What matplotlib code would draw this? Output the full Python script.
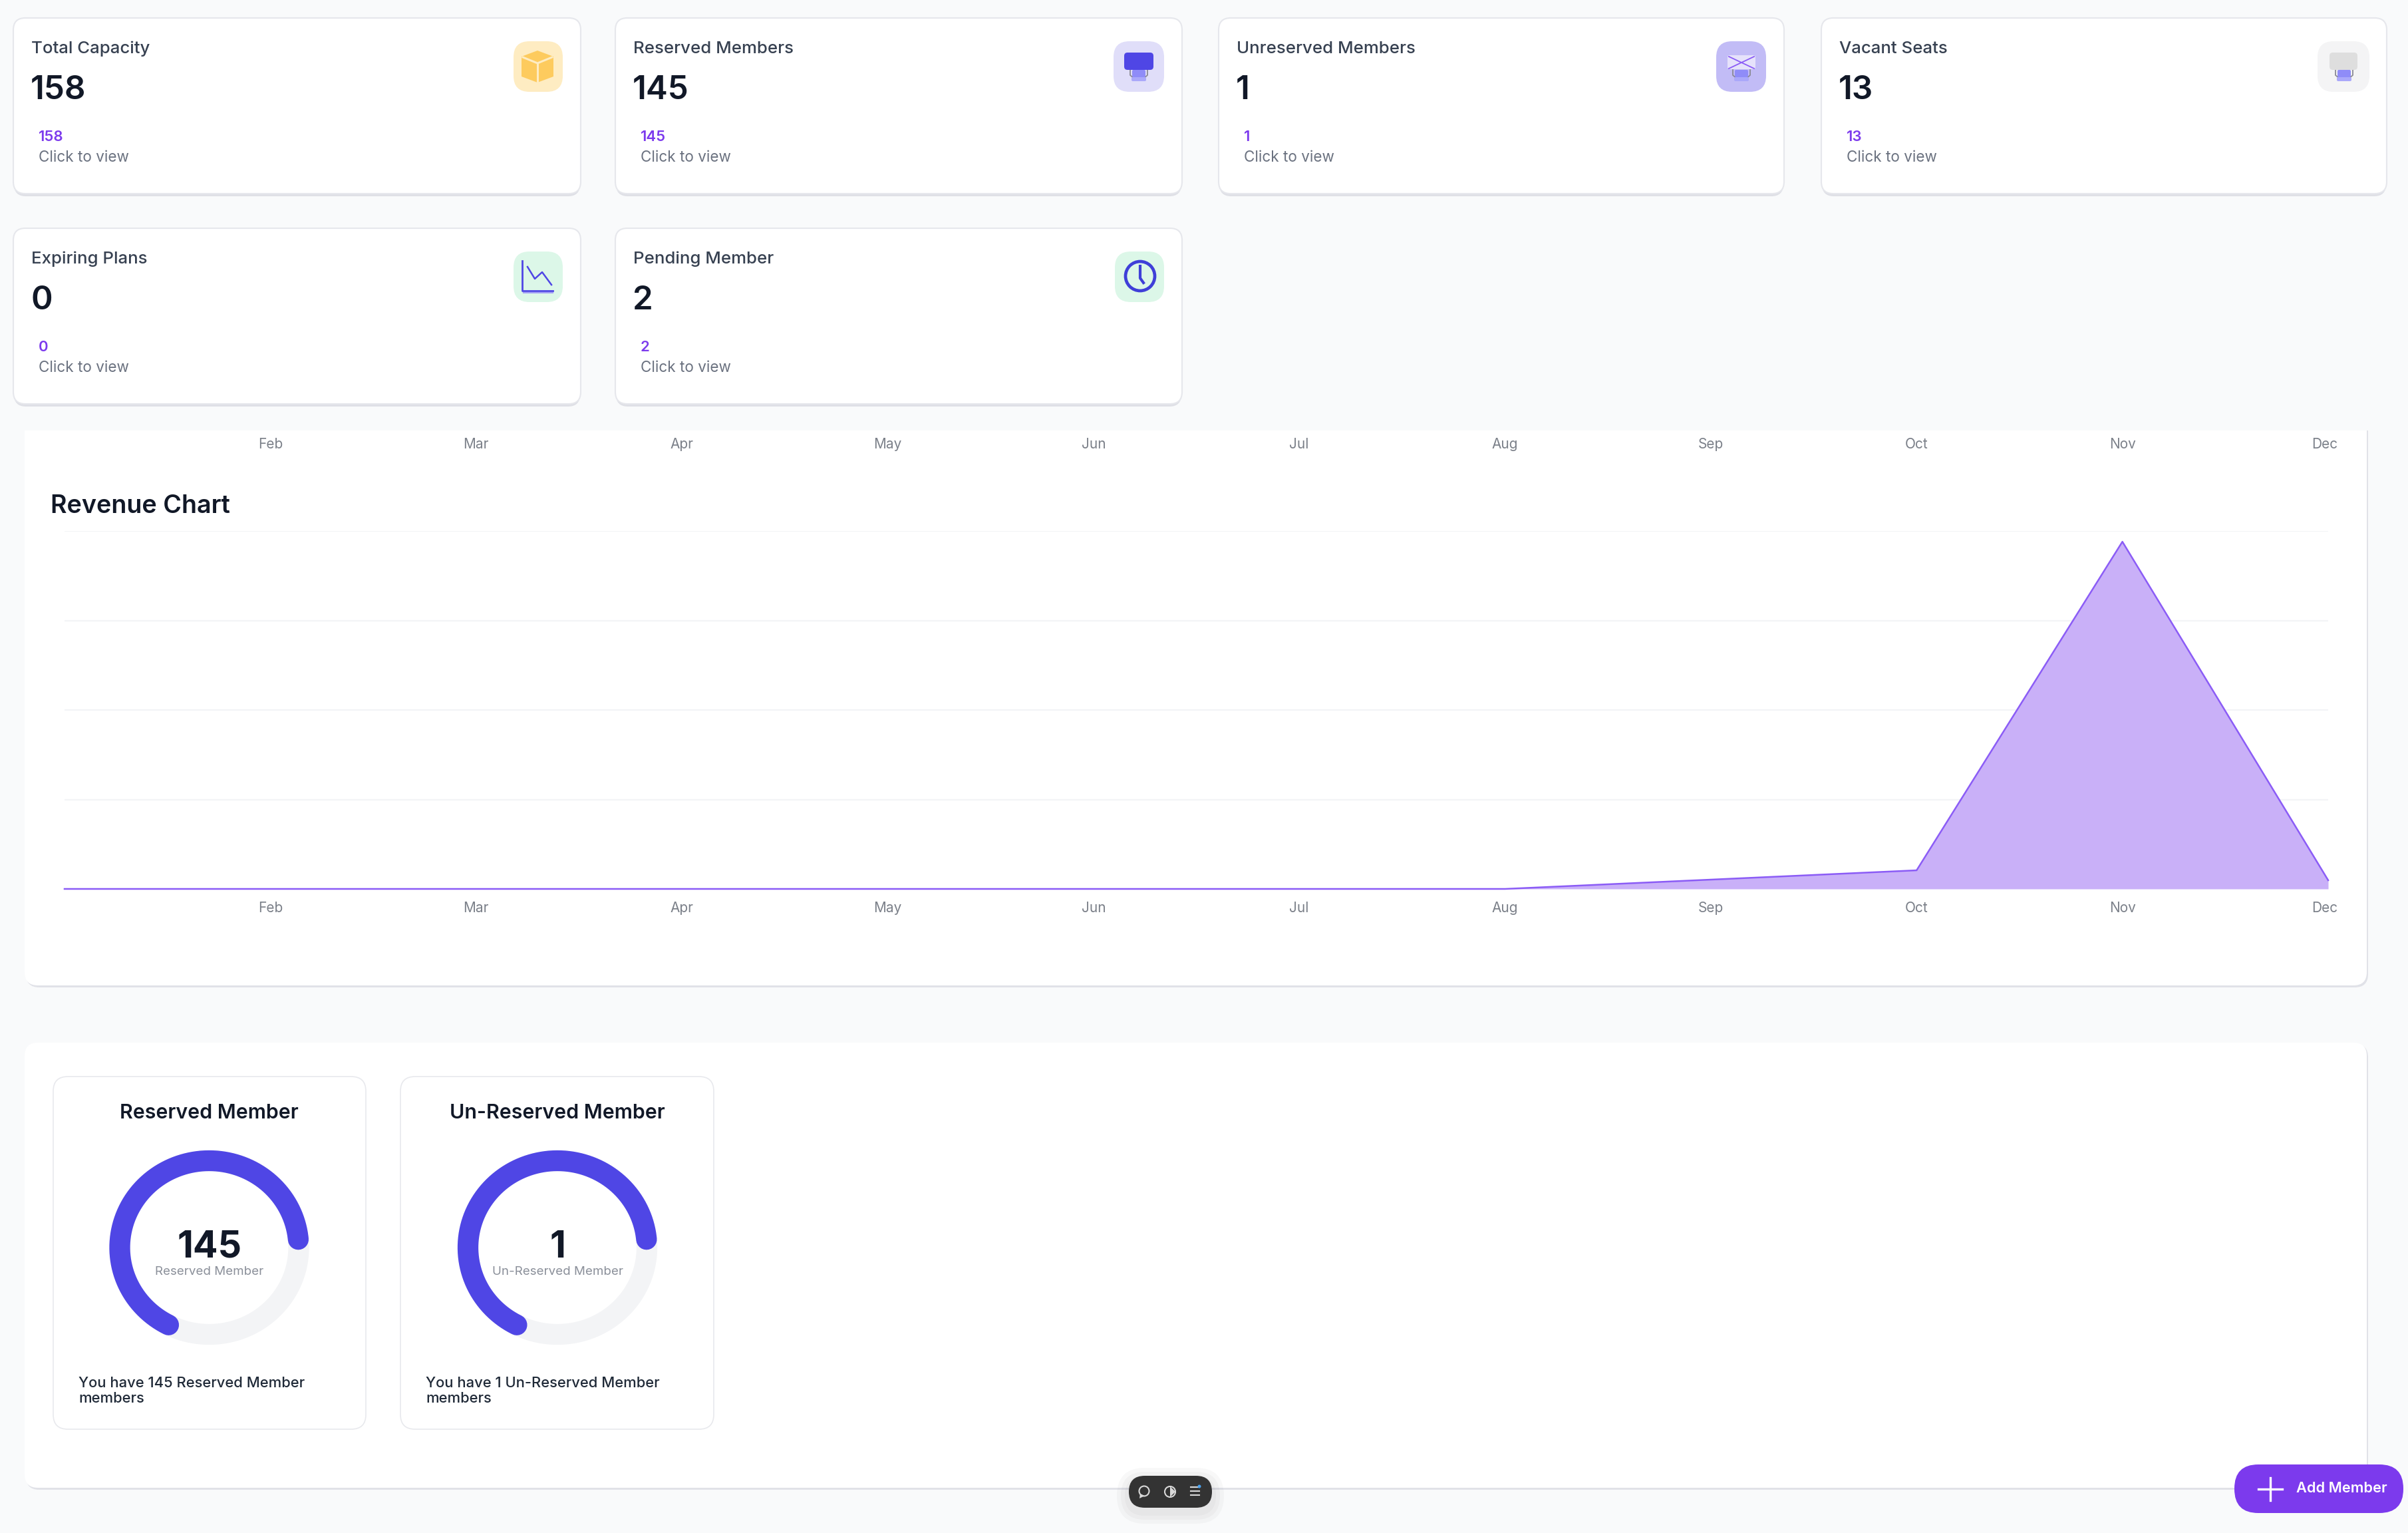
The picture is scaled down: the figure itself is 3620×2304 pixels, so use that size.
import numpy as np
import matplotlib
matplotlib.use("Agg")
import matplotlib.pyplot as plt
from matplotlib.patches import FancyBboxPatch, Polygon, Circle
from matplotlib.transforms import ScaledTranslation

plt.rcParams['font.family'] = ['Inter', 'DejaVu Sans']

# stat cards
card_titles = ["Total Capacity", "Reserved Members", "Unreserved Members", "Vacant Seats", "Expiring Plans", "Pending Member"]
card_values = [158, 145, 1, 13, 0, 2]
card_left = [20, 925, 1832, 2738, 20, 925]
card_right = [873, 1777, 2682, 3588, 873, 1777]
card_top = [27, 27, 27, 27, 343, 343]
card_bottom = [291, 291, 291, 291, 607, 607]
icon_bg = ["#feecc2", "#e0def9", "#c2bcf6", "#f4f4f5", "#dcf7e8", "#dcf7e8"]
icon_left = [772, 1674, 2580, 3484, 772, 1676]
icon_right = [846, 1750, 2655, 3562, 846, 1750]

# revenue chart
months = ["Jan", "Feb", "Mar", "Apr", "May", "Jun", "Jul", "Aug", "Sep", "Oct", "Nov", "Dec"]
revenue = [0, 0, 0, 0, 0, 0, 0, 0, 1040, 2080, 38800, 970]
grid_values = [0, 10000, 20000, 30000, 40000]

# gauges
gauge_titles = ["Reserved Member", "Un-Reserved Member"]
gauge_values = [145, 1]
gauge_percent = [66, 66]
gauge_start = 207
gauge_x = [314.5, 838]
gauge_card_left = [80, 602]
gauge_card_right = [550, 1073]

W, H = 3620, 2304
BG = "#f9fafb"
PURPLE = "#7c3aed"
INDIGO = "#4f46e5"

fig = plt.figure(figsize=(W / 100, H / 100), dpi=100, facecolor=BG)
ax = fig.add_axes([0, 0, 1, 1])
ax.set_xlim(0, W)
ax.set_ylim(H, 0)
ax.axis("off")


def box(x0, y0, x1, y1, r, fc, ec="none", lw=0, z=1, alpha=None):
    p = FancyBboxPatch((x0, y0), x1 - x0, y1 - y0, boxstyle="round,pad=0,rounding_size=%s" % r,
                       fc=fc, ec=ec, lw=lw, zorder=z, alpha=alpha)
    ax.add_patch(p)
    return p


def stand(cx, color):
    # little base under the seat icons
    ax.plot([cx - 13, cx - 13, cx - 7], [105, 113, 118], color="#8a8a94", lw=1.3, zorder=4)
    ax.plot([cx + 13, cx + 13, cx + 7], [105, 113, 118], color="#8a8a94", lw=1.3, zorder=4)
    box(cx - 10, 105, cx + 10, 116, 2, color, z=5)
    box(cx - 11, 116, cx + 11, 122, 2, "#aaa8fa", z=5)


def draw_icon(i):
    box(icon_left[i], card_top[i] + 35, icon_right[i], card_top[i] + 111, 24, icon_bg[i], z=3)
    if i == 0:
        hexagon = [(808, 76), (832, 85), (832, 115), (808, 124), (784, 115), (784, 85)]
        ax.add_patch(Polygon(hexagon, fc="#fdcb5e", ec="none", zorder=4))
        ax.plot([786, 808, 830], [86, 95, 86], color="#feecc2", lw=2.2, zorder=5)
        ax.plot([808, 808], [95, 123], color="#feecc2", lw=2.2, zorder=5)
    elif i == 1:
        box(1690, 79, 1734, 105, 5, INDIGO, z=6)
        stand(1712, "#8f8cf8")
    elif i == 2:
        stand(2618, "#8f8cf8")
        box(2597, 83, 2639, 104, 3, "#e6e2fb", z=6)
        ax.plot([2599, 2637], [85, 103], color="#8b5cf6", lw=1.3, zorder=7)
        ax.plot([2599, 2637], [103, 85], color="#8b5cf6", lw=1.3, zorder=7)
    elif i == 3:
        stand(3524, "#8f8cf8")
        box(3502, 79, 3544, 105, 5, "#dedede", z=6)
    elif i == 4:
        ax.plot([785, 785, 831], [392, 437, 437], color=INDIGO, lw=2, zorder=4)
        ax.plot([787, 831], [440, 440], color="#a5a2f5", lw=1.5, zorder=4)
        ax.plot([793, 804, 815, 829], [401, 419, 409, 428], color=INDIGO, lw=1.8, zorder=4)
    else:
        ax.add_patch(Circle((1714, 415), 22, fc="none", ec="#3f3fd8", lw=3.4, zorder=4))
        ax.plot([1714, 1714, 1719], [400, 418, 425], color="#3f3fd8", lw=3, zorder=4)


# chart panel, cut off at the top by the cards above it
box(39, 625, 3560, 1484, 20, "#e1e2e8", z=1)
box(37, 625, 3558, 1481, 20, "white", z=1)
ax.fill_between([30, 3570], 615, 647, color=BG, lw=0, zorder=1)

# top cards
for i in range(len(card_titles)):
    l, r, t, b = card_left[i], card_right[i], card_top[i], card_bottom[i]
    box(l + 1, t + 2, r - 1, b + 4, 18, "#dfe0e6", z=1.5)
    box(l, t, r, b, 18, "white", ec="#e6e7ec", lw=1.5, z=2)
    ax.text(l + 27, t + 46, card_titles[i], fontsize=18.6, fontweight="medium", color="#374151", va="center", zorder=3)
    ax.text(l + 26, t + 109, str(card_values[i]), fontsize=35.5, fontweight="semibold", color="#111827", va="center", zorder=3)
    ax.text(l + 38, t + 179, str(card_values[i]), fontsize=16, fontweight="semibold", color=PURPLE, va="center", zorder=3)
    ax.text(l + 38, t + 210, "Click to view", fontsize=16.2, color="#6b7280", va="center", zorder=3)
    draw_icon(i)

ax.text(76, 761, "Revenue Chart", fontsize=27.2, fontweight="semibold", color="#111827", va="center", zorder=3)

y_top, y_bottom, x_left, x_right = 798, 1336, 97, 3500
cax = fig.add_axes([x_left / W, 1 - y_bottom / H, (x_right - x_left) / W, (y_bottom - y_top) / H])
cax.patch.set_alpha(0)
for s in cax.spines.values():
    s.set_visible(False)
xs = np.arange(len(months))
cax.set_xlim(0, len(months) - 1)
cax.set_ylim(0, 40000)
cax.set_yticks(grid_values)
cax.set_yticklabels([])
cax.grid(axis="y", color="#f3f4f6", lw=1.6, zorder=0)
cax.set_axisbelow(True)
cax.fill_between(xs, 0, revenue, color="#c9b0f8", lw=0, zorder=2)
cax.plot(xs, revenue, color="#8b5cf6", lw=1.8, zorder=3, clip_on=False)
cax.set_xticks(xs[1:])
cax.set_xticklabels(months[1:], fontsize=15, color="#7b8089")
cax.tick_params(axis="x", length=0, pad=14)
cax.tick_params(axis="y", length=0, pad=0)
# Dec sits a little left of its tick so it stays inside the panel
last = cax.get_xticklabels()[-1]
last.set_transform(last.get_transform() + ScaledTranslation(-5 / 100, 0, fig.dpi_scale_trans))
# the axis labels of the chart above, which is scrolled away
for k in xs[1:]:
    dx = 5 / 309.4 if k == xs[-1] else 0
    cax.text(k - dx, 1 + (y_top - 667.5) / (y_bottom - y_top), months[k], transform=cax.get_xaxis_transform(),
             fontsize=15, color="#7b8089", ha="center", va="center")

# gauge panel
box(39, 1569, 3560, 2239, 20, "#e1e2e8", z=1)
box(37, 1567, 3558, 2236, 20, "white", z=2)
for i in range(len(gauge_titles)):
    cx, cy = gauge_x[i], 1875
    box(gauge_card_left[i], 1618, gauge_card_right[i], 2148, 22, "white", ec="#e8e9ed", lw=1.2, z=3)
    ax.text(cx, 1673, gauge_titles[i], fontsize=21.8, fontweight="semibold", color="#111827", ha="center", va="center", zorder=4)
    t = np.radians(np.linspace(0, 360, 361))
    ax.plot(cx + 134.5 * np.sin(t), cy - 130.5 * np.cos(t), color="#f3f4f6", lw=22.5, zorder=4)
    t = np.radians(gauge_start + np.linspace(0, gauge_percent[i] * 3.6, 200))
    ax.plot(cx + 134.5 * np.sin(t), cy - 130.5 * np.cos(t), color=INDIGO, lw=22.5, zorder=5, solid_capstyle="round")
    ax.text(cx, 1875, str(gauge_values[i]), fontsize=40, fontweight="bold", color="#111827", ha="center", va="center", zorder=6)
    ax.text(cx, 1912, gauge_titles[i], fontsize=13.5, color="#8a8f99", ha="center", va="center", zorder=6)
    ax.text(gauge_card_left[i] + 38, 2079, "You have %d %s" % (gauge_values[i], gauge_titles[i]), fontsize=15.8,
            fontweight="medium", color="#1f2937", va="center", zorder=4)
    ax.text(gauge_card_left[i] + 38, 2102, "members", fontsize=15.8, fontweight="medium", color="#1f2937", va="center", zorder=4)

# floating toolbar
for g in [18, 12, 6]:
    box(1697 - g, 2224 - g, 1822 + g, 2272 + g, 24 + g, "#333333", z=6, alpha=0.03)
box(1697, 2218, 1822, 2266, 24, "#333333", z=7)
ax.add_patch(Circle((1720, 2241), 7.5, fc="none", ec="#d9d9d9", lw=1.5, zorder=8))
ax.add_patch(Polygon([(1714, 2245), (1721, 2248), (1713, 2252)], fc="#d9d9d9", ec="none", zorder=8))
ax.add_patch(Circle((1759, 2242), 8, fc="#333333", ec="#d9d9d9", lw=1.5, zorder=8))
ax.add_patch(Polygon([(1759, 2234), (1767, 2242), (1759, 2250)], fc="#d9d9d9", ec="none", zorder=8))
for yy in [2235, 2241, 2247]:
    ax.plot([1790, 1803], [yy, yy], color="#d9d9d9", lw=1.5, zorder=8)
ax.add_patch(Circle((1803, 2234), 2.5, fc="#4aa3f0", ec="none", zorder=9))

# add button
box(3359, 2201, 3613, 2274, 36, PURPLE, z=7)
ax.plot([3395, 3431], [2238, 2238], color="white", lw=2.4, zorder=8)
ax.plot([3413, 3413], [2221, 2255], color="white", lw=2.4, zorder=8)
ax.text(3520, 2237, "Add Member", fontsize=15.7, fontweight="semibold", color="white", ha="center", va="center", zorder=8)

fig.savefig("out.png", dpi=100, facecolor=BG)
